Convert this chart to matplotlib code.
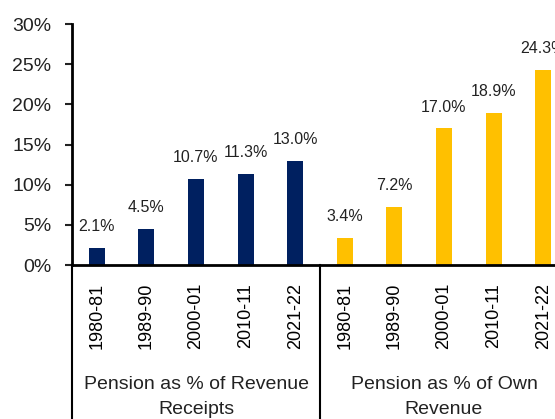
import numpy as np
import matplotlib.pyplot as plt
import matplotlib.transforms as mtransforms

plt.rcParams['font.family'] = ['Liberation Sans', 'DejaVu Sans']

# data
years = ['1980-81', '1989-90', '2000-01', '2010-11', '2021-22']
revenue_receipts = [2.1, 4.5, 10.7, 11.3, 13.0]
own_revenue = [3.4, 7.2, 17.0, 18.9, 24.3]
groups = ['Pension as % of Revenue\nReceipts', 'Pension as % of Own\nRevenue']
colors = ['#002060', '#FFC000']

fig = plt.figure(figsize=(5.55, 4.19), dpi=100)
ax = fig.add_axes([72 / 555, 154 / 419, 496 / 555, 241 / 419])

labels = years + years
values = revenue_receipts + own_revenue
bar_colors = [colors[0]] * len(years) + [colors[1]] * len(years)
x = np.arange(len(values))

bars = ax.bar(x, values, width=0.32, color=bar_colors)
for xi, v in zip(x, values):
    ax.annotate(f'{v:.1f}%', (xi, v), xytext=(0, 10), textcoords='offset points',
                ha='center', va='bottom', fontsize=11.5, color='#222222')

ax.set_xlim(-0.5, len(values) - 0.5)
ax.set_ylim(0, 30)
ax.set_yticks(np.arange(0, 31, 5))
ax.set_yticklabels([f'{t}%' for t in range(0, 31, 5)], fontsize=14)
ax.set_xticks(x)
ax.set_xticklabels(labels, rotation=90, fontsize=13)
ax.tick_params(axis='x', length=0, pad=13)
ax.tick_params(axis='y', length=5, width=1.5, pad=10, colors='#222222')

for s in ['top', 'right']:
    ax.spines[s].set_visible(False)
for s in ['left', 'bottom']:
    ax.spines[s].set_linewidth(2)

# group separators and labels below the axis
trans = mtransforms.blended_transform_factory(ax.transData, ax.transAxes)
for sx in [-0.5, 4.5]:
    ax.plot([sx, sx], [0, -1], transform=trans, color='black', lw=1.5, clip_on=False)
for gx, g in zip([2, 7], groups):
    ax.text(gx, -0.46, g, transform=trans, ha='center', va='top', fontsize=14,
            linespacing=1.6, color='#222222')

fig.savefig('out.png', dpi=100)
